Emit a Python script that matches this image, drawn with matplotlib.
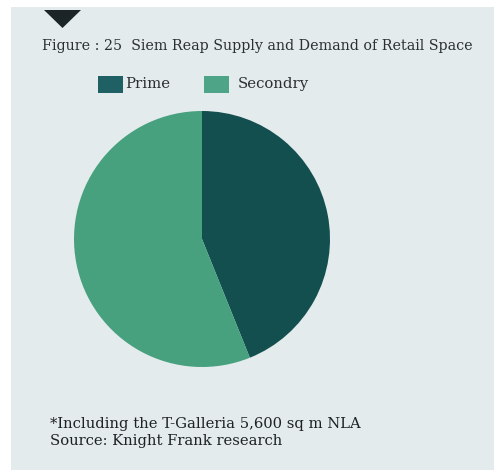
import matplotlib.pyplot as plt
from matplotlib.patches import Rectangle, Polygon

# data
labels = ["Prime", "Secondry"]
shares = [43.9, 56.1]
colors = ["#144f4f", "#47a17e"]
legend_colors = ["#1e6063", "#4ea486"]

W, H = 494, 470
fig = plt.figure(figsize=(W / 100, H / 100), dpi=100)
fig.patch.set_facecolor("white")

# panel background
fig.patches.append(Rectangle((11 / W, 0), 1 - 11 / W, 1 - 7 / H,
                             transform=fig.transFigure, facecolor="#e3ebec",
                             edgecolor="none", zorder=-2))
# little marker triangle
fig.patches.append(Polygon([(44 / W, 1 - 10 / H), (81 / W, 1 - 10 / H), (62.5 / W, 1 - 28 / H)],
                           closed=True, transform=fig.transFigure,
                           facecolor="#1b2427", edgecolor="none", zorder=-1))

serif = ["DejaVu Serif"]
fig.text(42 / W, 1 - 46 / H, "Figure : 25  Siem Reap Supply and Demand of Retail Space",
         family=serif, fontsize=10.3, color="#2b2f31", va="center", ha="left")

# legend
for lx, tx, lab, c in [(98, 125, labels[0], legend_colors[0]), (204, 238, labels[1], legend_colors[1])]:
    fig.patches.append(Rectangle((lx / W, 1 - 93 / H), 25 / W, 17 / H,
                                 transform=fig.transFigure, facecolor=c,
                                 edgecolor="none", zorder=-1))
    fig.text(tx / W, 1 - 84 / H, lab, family=serif, fontsize=10.7,
             color="#2b2f31", va="center", ha="left")

# pie
cx, cy, r = 202, 239, 128
ax = fig.add_axes([(cx - r) / W, (H - cy - r) / H, 2 * r / W, 2 * r / H])
ax.set_zorder(3)
ax.pie(shares, colors=colors, startangle=90, counterclock=False,
       wedgeprops=dict(linewidth=0))
ax.set_xlim(-1, 1)
ax.set_ylim(-1, 1)
ax.set_aspect("equal")
ax.axis("off")

fig.text(50 / W, 1 - 424 / H, "*Including the T-Galleria 5,600 sq m NLA",
         family=serif, fontsize=10.6, color="#1e2224", va="center", ha="left")
fig.text(50 / W, 1 - 441 / H, "Source: Knight Frank research",
         family=serif, fontsize=10.6, color="#1e2224", va="center", ha="left")

fig.savefig("out.png", dpi=100)
